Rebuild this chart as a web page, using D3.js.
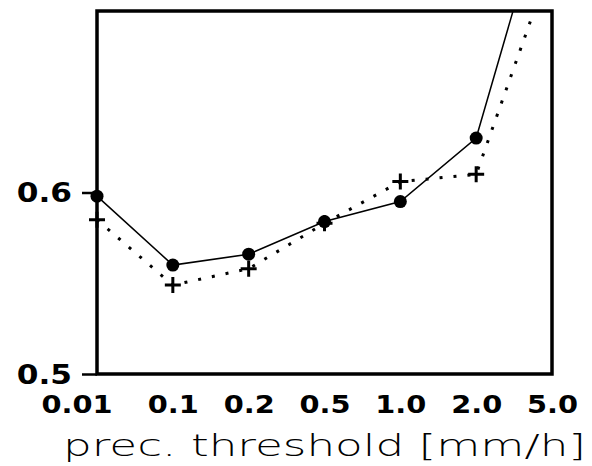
<!DOCTYPE html>
<html>
<head>
<meta charset="utf-8">
<script src="https://cdn.jsdelivr.net/npm/d3@7"></script>
<style>
  body { margin: 0; background: #fff; }
  .tick text { font-family: "DejaVu Sans", sans-serif; font-weight: bold; fill: #000; }
  .axis_label { font-family: "DejaVu Sans ExtraLight", "DejaVu Sans", sans-serif; font-weight: 200; fill: #000; }
</style>
</head>
<body>
<div id="chart"></div>
<script>
// thresholds on the x axis (categorical, evenly spaced)
const thresholds = ["0.01", "0.1", "0.2", "0.5", "1.0", "2.0", "5.0"];
// solid line with filled circles
const solidValues = [0.598, 0.560, 0.566, 0.584, 0.595, 0.630, 0.774];
// dotted line with plus markers
const dottedValues = [0.585, 0.549, 0.558, 0.583, 0.606, 0.610, 0.728];
const yTicks = [0.5, 0.6];
const xLabelText = "prec. threshold [mm/h]";

let margin = { top: 11, left: 97, right: 40, bottom: 92 },
  width = 592 - margin.left - margin.right,
  height = 466 - margin.top - margin.bottom;

let svg = d3.select("#chart")
  .append("svg")
    .attr("width", 592)
    .attr("height", 466);

let g = svg.append("g")
  .attr("transform", "translate(" + margin.left + "," + margin.top + ")");

// scales
let xScale = d3.scalePoint()
  .domain(thresholds)
  .range([0, width]);

let yScale = d3.scaleLinear()
  .domain([0.5, 0.7])
  .range([height, 0]);

// clip so the 5.0 values run off the top of the frame
g.append("clipPath")
  .attr("id", "plotclip")
  .append("rect")
    .attr("x", -12)
    .attr("y", 0)
    .attr("width", width + 12)
    .attr("height", height + 12);

// X axis, labels only
let xAxis = g.append("g")
  .attr("class", "axis")
  .attr("transform", "translate(0," + height + ")")
  .call(d3.axisBottom(xScale).tickSize(0).tickPadding(22));
xAxis.select(".domain").remove();
xAxis.selectAll("text")
  .style("font-size", "24px")
  .attr("transform", "scale(1.2,1)")
  .filter((d, i) => i === 0)
    .attr("text-anchor", "end")
    .attr("x", 12.5);

// Y axis
let yAxis = g.append("g")
  .attr("class", "axis")
  .call(d3.axisLeft(yScale).tickValues(yTicks).tickSize(15).tickFormat(d3.format(".1f")));
yAxis.select(".domain").remove();
yAxis.selectAll("line").attr("stroke", "#000").attr("stroke-width", 2.5);
yAxis.selectAll("text")
  .style("font-size", "26px")
  .attr("x", -25 / 1.2)
  .attr("dy", "0.36em")
  .attr("transform", "scale(1.2,1)");

// axis title
g.append("text")
  .attr("class", "axis_label")
  .attr("x", width / 2)
  .attr("y", height + 82)
  .attr("text-anchor", "middle")
  .attr("textLength", 523)
  .attr("lengthAdjust", "spacingAndGlyphs")
  .style("font-size", "31px")
  .text(xLabelText);

let plot = g.append("g").attr("clip-path", "url(#plotclip)");

const line = d3.line()
  .x((d, i) => xScale(thresholds[i]))
  .y(d => yScale(d));

// dotted series
plot.append("path")
  .attr("d", line(dottedValues))
  .attr("fill", "none")
  .attr("stroke", "#000")
  .attr("stroke-width", 3)
  .attr("stroke-dasharray", "3 11");

plot.selectAll(".plus")
  .data(dottedValues)
  .enter()
  .append("path")
  .attr("class", "plus")
  .attr("transform", (d, i) => "translate(" + xScale(thresholds[i]) + "," + yScale(d) + ")")
  .attr("d", "M-8,0H8M0,-8V8")
  .attr("stroke", "#000")
  .attr("stroke-width", 3);

// solid series
plot.append("path")
  .attr("d", line(solidValues))
  .attr("fill", "none")
  .attr("stroke", "#000")
  .attr("stroke-width", 1.5);

plot.selectAll(".dot")
  .data(solidValues)
  .enter()
  .append("circle")
  .attr("class", "dot")
  .attr("cx", (d, i) => xScale(thresholds[i]))
  .attr("cy", d => yScale(d))
  .attr("r", 6.5)
  .attr("fill", "#000");

// frame
g.append("rect")
  .attr("width", width)
  .attr("height", height)
  .attr("fill", "none")
  .attr("stroke", "#000")
  .attr("stroke-width", 3.5);
</script>
</body>
</html>
